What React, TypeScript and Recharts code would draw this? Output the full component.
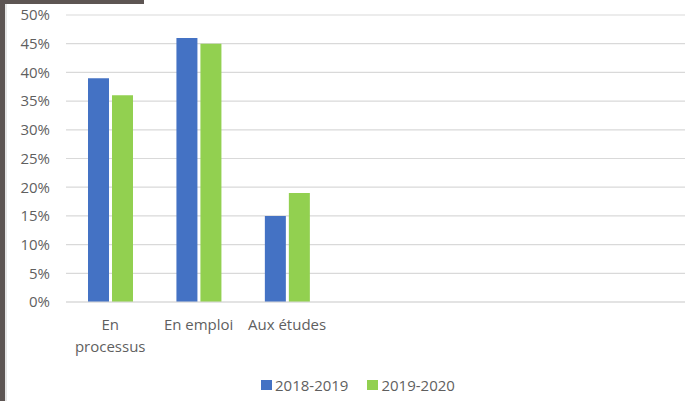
import React from "react";
import { BarChart, Bar, XAxis, YAxis, CartesianGrid, Legend } from "recharts";

const categories = ["En processus", "En emploi", "Aux études", "c4", "c5", "c6", "c7"];
const categoryLabels = [["En", "processus"], ["En emploi"], ["Aux études"], [], [], [], []];
const series2018 = [39, 46, 15, null, null, null, null];
const series2019 = [36, 45, 19, null, null, null, null];
const yTicks = [0, 5, 10, 15, 20, 25, 30, 35, 40, 45, 50];
const seriesNames = ["2018-2019", "2019-2020"];
const seriesColors = ["#4472C4", "#92D050"];

const data = categories.map((c, i) => ({
  cat: c,
  s1: series2018[i],
  s2: series2019[i],
}));

const FONT = "'Open Sans', sans-serif";
const TEXT = "#5f5f5f";

const XTick = (props: any) => {
  const { x, y, index } = props;
  const lines = categoryLabels[index] || [];
  return (
    <text x={x} y={y} textAnchor="middle" fill={TEXT} fontSize={15} fontFamily={FONT}>
      {lines.map((l: string, i: number) => (
        <tspan key={i} x={x} dy={i === 0 ? 28 : 22}>
          {l}
        </tspan>
      ))}
    </text>
  );
};

const LegendContent = () => (
  <div style={{ display: "flex", alignItems: "center", fontFamily: FONT, fontSize: 15, color: TEXT }}>
    {seriesNames.map((n, i) => (
      <div key={n} style={{ display: "flex", alignItems: "center", marginRight: i === 0 ? 19 : 0 }}>
        <div style={{ width: 11, height: 10, background: seriesColors[i], marginRight: 3 }} />
        <span style={{ lineHeight: "18px" }}>{n}</span>
      </div>
    ))}
  </div>
);

export default function App() {
  return (
    <div style={{ position: "absolute", left: 0, top: 0, width: 699, height: 401, background: "#fff", overflow: "hidden" }}>
      <div style={{ position: "absolute", left: 0, top: 0, width: 144, height: 4, background: "#5d5553" }} />
      <div style={{ position: "absolute", left: 0, top: 0, width: 5, height: 401, background: "#5d5553" }} />
      <div style={{ position: "absolute", left: 5, top: 4, width: 2, height: 397, background: "#e6e6e6" }} />
      <BarChart
        width={699}
        height={401}
        data={data}
        margin={{ top: 15, right: 14, left: 8, bottom: 39 }}
        barSize={21}
        barGap={3}
      >
        <CartesianGrid vertical={false} stroke="#d9d9d9" strokeWidth={1.2} />
        <XAxis
          dataKey="cat"
          height={60}
          tick={<XTick />}
          tickLine={false}
          tickSize={0}
          tickMargin={0}
          interval={0}
          axisLine={{ stroke: "#d9d9d9", strokeWidth: 1.2 }}
        />
        <YAxis
          width={58}
          domain={[0, 50]}
          ticks={yTicks}
          interval={0}
          tickFormatter={(v: number) => `${v}%`}
          axisLine={false}
          tickLine={false}
          tickSize={0}
          tickMargin={16}
          tick={{ fill: TEXT, fontSize: 15, fontFamily: FONT }}
        />
        <Legend
          layout="horizontal"
          verticalAlign="middle"
          align="center"
          content={<LegendContent />}
          wrapperStyle={{ position: "absolute", top: 376, left: 261, width: "auto" }}
        />
        <Bar dataKey="s1" name={seriesNames[0]} fill={seriesColors[0]} isAnimationActive={false} />
        <Bar dataKey="s2" name={seriesNames[1]} fill={seriesColors[1]} isAnimationActive={false} />
      </BarChart>
    </div>
  );
}
